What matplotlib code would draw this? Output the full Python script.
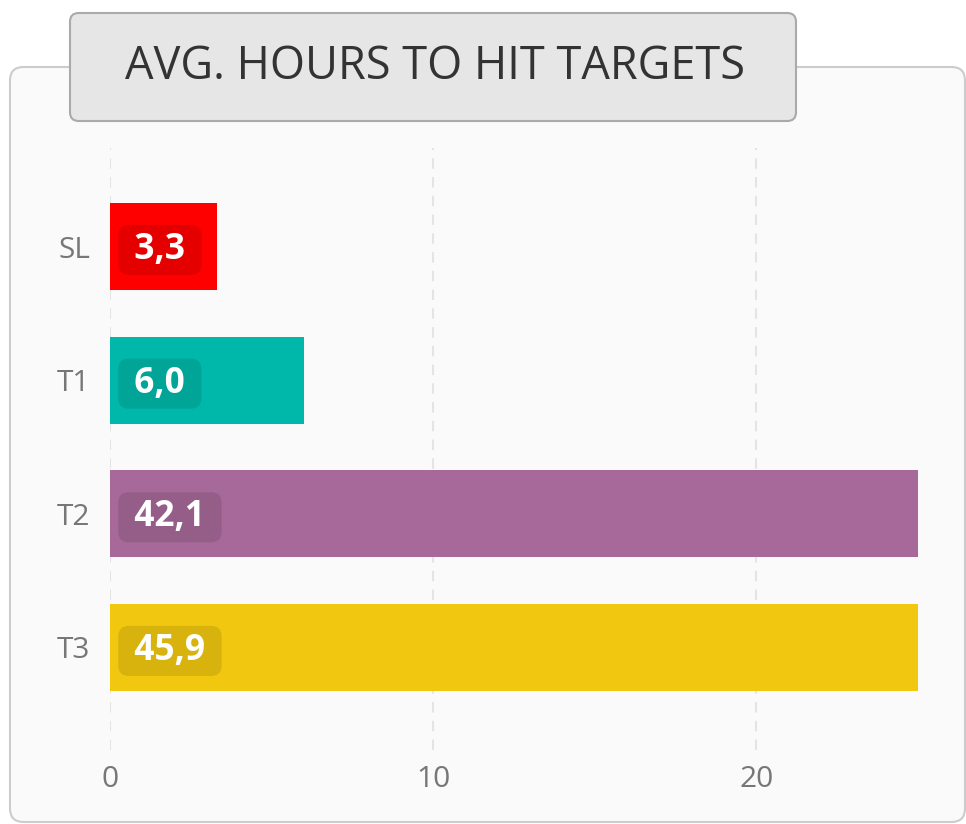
import matplotlib
matplotlib.use("Agg")
import matplotlib.pyplot as plt
from matplotlib.patches import FancyBboxPatch

plt.rcParams['font.family'] = ['Open Sans', 'DejaVu Sans']

title = "AVG. HOURS TO HIT TARGETS"
categories = ["SL", "T1", "T2", "T3"]
values = [3.3, 6.0, 42.1, 45.9]
value_labels = ["3,3", "6,0", "42,1", "45,9"]
colors = ["#ff0000", "#00b8a9", "#a66999", "#f1c80f"]
xticks = [0, 10, 20]

W, H = 966, 824
fig = plt.figure(figsize=(W / 100, H / 100), dpi=100)
fig.patch.set_facecolor("white")

def fx(px):
    return px / W

def fy(py):
    return 1 - py / H

# card background
card = FancyBboxPatch((fx(10), fy(822)), fx(955), (822 - 67) / H,
                      boxstyle="round,pad=0,rounding_size=0.014",
                      transform=fig.transFigure, facecolor="#fafafa",
                      edgecolor="#cccccc", linewidth=1.5, zorder=0,
                      mutation_aspect=W / H)
fig.patches.append(card)

# title box
tbox = FancyBboxPatch((fx(70), fy(121)), fx(726), (121 - 13) / H,
                      boxstyle="round,pad=0,rounding_size=0.009",
                      transform=fig.transFigure, facecolor="#e6e6e6",
                      edgecolor="#aaaaaa", linewidth=1.5, zorder=1,
                      mutation_aspect=W / H)
fig.patches.append(tbox)
fig.text(fx(435), fy(67), title, ha="center", va="center",
         fontsize=32.5, color="#333333", zorder=2)

ax = fig.add_axes([fx(110), fy(750), fx(918 - 110), (750 - 148) / H])
ax.set_facecolor("none")
ax.set_zorder(3)

ypos = list(range(len(categories)))
ax.barh(ypos, values, height=0.65, color=colors, zorder=2)

for i, lab in enumerate(value_labels):
    ax.annotate(" " + lab + " ", xy=(0, ypos[i]), xytext=(11, -2.5),
                textcoords="offset points", ha="left", va="center",
                fontsize=25.5, fontweight="bold", color="white", zorder=4,
                bbox=dict(boxstyle="round,pad=0.2,rounding_size=0.3",
                          facecolor=(0, 0, 0, 0.1), edgecolor="none"))

ax.set_xlim(0, 25)
ax.set_ylim(3.767, -0.737)
ax.set_xticks(xticks)
ax.set_xticklabels([str(t) for t in xticks])
ax.set_yticks(ypos)
ax.set_yticklabels(categories)
ax.tick_params(axis="both", length=0, labelsize=21.5, labelcolor="#777777")
ax.tick_params(axis="x", pad=11)
ax.tick_params(axis="y", pad=14)
for s in ax.spines.values():
    s.set_visible(False)
ax.grid(axis="x", color="#e4e4e4", linewidth=1.5, linestyle=(0, (5, 4)), zorder=0)
ax.set_axisbelow(True)

fig.savefig("out.png", dpi=100)
